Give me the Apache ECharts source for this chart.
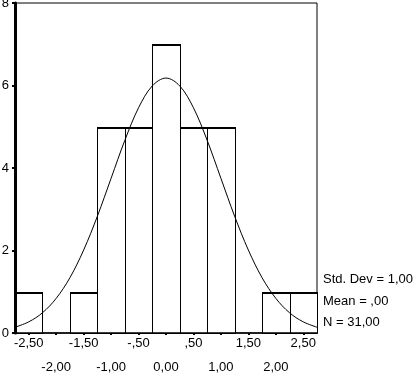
<!DOCTYPE html>
<html>
<head>
<meta charset="utf-8">
<script src="https://cdn.jsdelivr.net/npm/echarts@6/dist/echarts.min.js"></script>
<style>
html,body{margin:0;padding:0;background:#fff;}
#chart{width:417px;height:373px;}
</style>
</head>
<body>
<div id="chart"></div>
<script>
// Histogram bins (lower and upper edges) and counts
const binLo = [-2.75, -2.25, -1.75, -1.25, -0.75, -0.25, 0.25, 0.75, 1.25, 1.75, 2.25];
const binHi = [-2.25, -1.75, -1.25, -0.75, -0.25, 0.25, 0.75, 1.25, 1.75, 2.25, 2.75];
const counts = [1, 0, 1, 5, 5, 7, 5, 5, 0, 1, 1];

// Normal curve
const curveX = [-2.75, -2.5, -2.25, -2.0, -1.75, -1.5, -1.25, -1.0, -0.75, -0.5, -0.25, 0,
                0.25, 0.5, 0.75, 1.0, 1.25, 1.5, 1.75, 2.0, 2.25, 2.5, 2.75];
const curveY = [0.14, 0.27, 0.49, 0.84, 1.34, 2.01, 2.83, 3.75, 4.67, 5.46, 5.99, 6.18,
                5.99, 5.46, 4.67, 3.75, 2.83, 2.01, 1.34, 0.84, 0.49, 0.27, 0.14];

// Axis ticks and labels (two staggered label rows)
const xTickValues = [-2.5, -2.0, -1.5, -1.0, -0.5, 0.0, 0.5, 1.0, 1.5, 2.0, 2.5];
const xRow1Values = [-2.5, -1.5, -0.5, 0.5, 1.5, 2.5];
const xRow1Labels = ['-2,50', '-1,50', '-,50', ',50', '1,50', '2,50'];
const xRow2Values = [-2.0, -1.0, 0.0, 1.0, 2.0];
const xRow2Labels = ['-2,00', '-1,00', '0,00', '1,00', '2,00'];
const yTickValues = [0, 2, 4, 6, 8];

// Statistics text
const statLines = ['Std. Dev = 1,00', 'Mean = ,00', 'N = 31,00'];

const FONT = 'Liberation Sans, Arial, Helvetica, sans-serif';

const chart = echarts.init(document.getElementById('chart'), null, {renderer: 'canvas'});

const barData = binLo.map((lo, i) => [lo, binHi[i], counts[i]]);
const curveData = curveX.map((x, i) => [x, curveY[i]]);

function snap(v) { return Math.round(v) + 0.5; }

function lookup(values, labels) {
  return function (v) {
    for (let i = 0; i < values.length; i++) {
      if (Math.abs(values[i] - v) < 1e-6) return labels[i];
    }
    return '';
  };
}

const labelBase = {
  show: true,
  hideOverlap: false,
  showMinLabel: true,
  showMaxLabel: true,
  color: '#000',
  fontFamily: FONT,
  fontSize: 13
};

const option = {
  backgroundColor: '#fff',
  animation: false,
  grid: {
    left: 15, right: 100, top: 3, bottom: 40,
    containLabel: false,
    outerBoundsMode: 'none',
    show: true, borderColor: '#000', borderWidth: 1, backgroundColor: 'transparent'
  },
  xAxis: [
    {
      type: 'value',
      min: -2.75, max: 2.75,
      position: 'bottom',
      offset: 0,
      z: 10,
      axisLine: {show: true, onZero: false, lineStyle: {color: '#000', width: 1.5}},
      axisTick: {show: true, customValues: xTickValues, length: 2, lineStyle: {color: '#000', width: 2}},
      axisLabel: Object.assign({}, labelBase, {
        customValues: xRow1Values,
        margin: 4,
        formatter: lookup(xRow1Values, xRow1Labels)
      }),
      splitLine: {show: false}
    },
    {
      type: 'value',
      min: -2.75, max: 2.75,
      position: 'bottom',
      offset: 0,
      z: 10,
      axisLine: {show: false, onZero: false},
      axisTick: {show: false},
      axisLabel: Object.assign({}, labelBase, {
        customValues: xRow2Values,
        margin: 28,
        formatter: lookup(xRow2Values, xRow2Labels)
      }),
      splitLine: {show: false}
    }
  ],
  yAxis: {
    type: 'value',
    min: 0, max: 8, interval: 2,
    z: 10,
    axisLine: {show: true, onZero: false, lineStyle: {color: '#000', width: 3}},
    axisTick: {show: true, length: 3, lineStyle: {color: '#000', width: 2}},
    axisLabel: {
      color: '#000', fontFamily: FONT, fontSize: 13, margin: 6,
      customValues: yTickValues
    },
    splitLine: {show: false}
  },
  series: [
    {
      type: 'custom',
      xAxisIndex: 0,
      z: 2,
      data: barData,
      encode: {x: [0, 1], y: 2},
      renderItem: function (params, api) {
        const lo = api.value(0), hi = api.value(1), c = api.value(2);
        if (!c) return null;
        const p1 = api.coord([lo, c]);
        const p2 = api.coord([hi, 0]);
        const x1 = snap(p1[0]), x2 = snap(p2[0]), y1 = snap(p1[1]), y2 = snap(p2[1]);
        return {
          type: 'group',
          children: [
            {
              type: 'rect',
              shape: {x: x1, y: y1, width: x2 - x1, height: y2 - y1},
              style: {fill: '#fff', stroke: '#000', lineWidth: 1}
            },
            {
              type: 'line',
              shape: {x1: x1 - 0.5, y1: y1 + 0.5, x2: x2 + 0.5, y2: y1 + 0.5},
              style: {stroke: '#000', lineWidth: 2}
            }
          ]
        };
      }
    },
    {
      type: 'line',
      xAxisIndex: 0,
      z: 3,
      data: curveData,
      smooth: 0.35,
      symbol: 'none',
      lineStyle: {color: '#000', width: 1}
    }
  ],
  graphic: statLines.map((t, i) => ({
    type: 'text',
    left: 323,
    top: 273 + i * 21.5,
    style: {text: t, fill: '#000', font: '13px ' + FONT}
  }))
};

chart.setOption(option);
</script>
</body>
</html>
